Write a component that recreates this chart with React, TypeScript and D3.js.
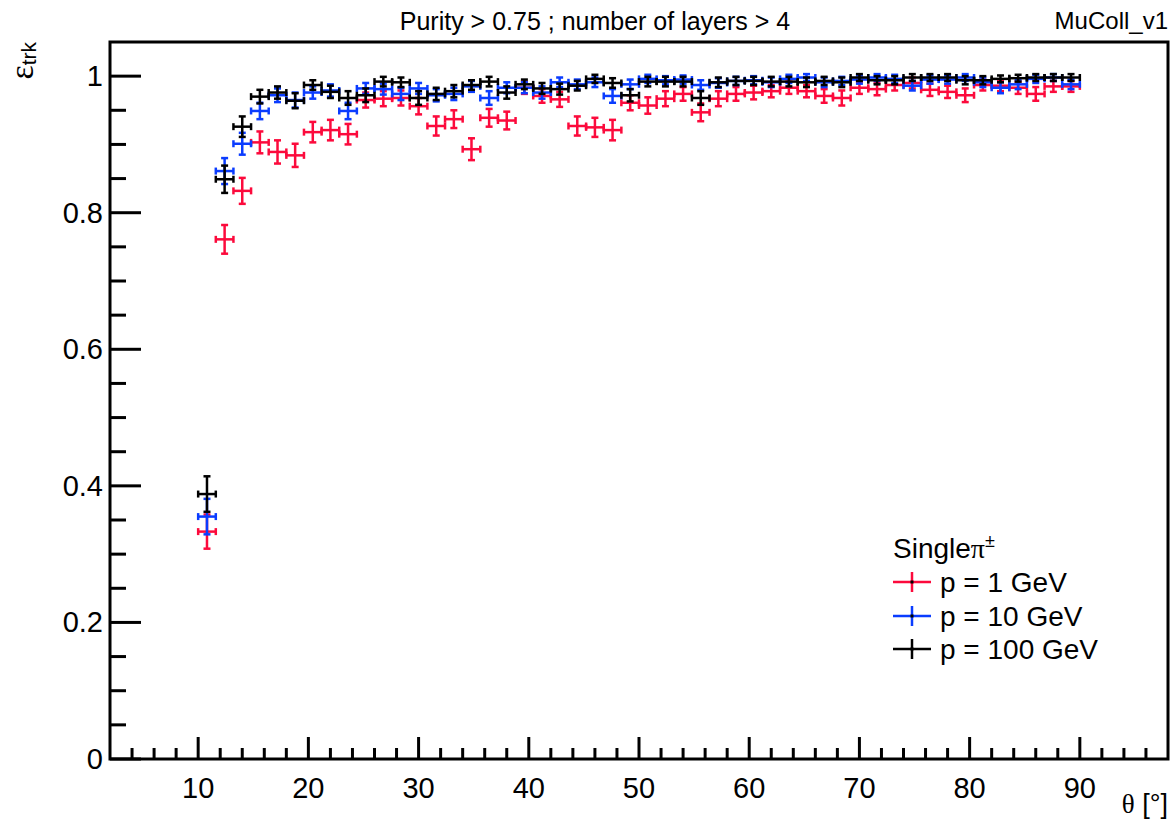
import * as React from 'react';
import * as d3 from 'd3';

// bin centres in theta [deg], 1.6 deg wide bins from 10 to 90
const thetaCenters = [
  10.8, 12.4, 14.0, 15.6, 17.2, 18.8, 20.4, 22.0, 23.6, 25.2,
  26.8, 28.4, 30.0, 31.6, 33.2, 34.8, 36.4, 38.0, 39.6, 41.2,
  42.8, 44.4, 46.0, 47.6, 49.2, 50.8, 52.4, 54.0, 55.6, 57.2,
  58.8, 60.4, 62.0, 63.6, 65.2, 66.8, 68.4, 70.0, 71.6, 73.2,
  74.8, 76.4, 78.0, 79.6, 81.2, 82.8, 84.4, 86.0, 87.6, 89.2,
];
const binHalfWidth = 0.8;

const eff1GeV = [
  0.333, 0.761, 0.832, 0.903, 0.889, 0.884, 0.918, 0.921, 0.915, 0.965,
  0.967, 0.968, 0.956, 0.927, 0.937, 0.893, 0.939, 0.935, 0.983, 0.971,
  0.966, 0.927, 0.925, 0.921, 0.961, 0.957, 0.967, 0.974, 0.947, 0.967,
  0.974, 0.976, 0.978, 0.983, 0.978, 0.971, 0.968, 0.983, 0.981, 0.987,
  0.990, 0.980, 0.977, 0.972, 0.987, 0.986, 0.983, 0.974, 0.985, 0.985,
];
const err1GeV = [
  0.025, 0.021, 0.019, 0.016, 0.017, 0.017, 0.015, 0.015, 0.015, 0.011,
  0.011, 0.011, 0.012, 0.014, 0.013, 0.016, 0.013, 0.013, 0.009, 0.010,
  0.011, 0.014, 0.014, 0.015, 0.011, 0.012, 0.011, 0.010, 0.013, 0.011,
  0.010, 0.010, 0.009, 0.009, 0.009, 0.010, 0.011, 0.009, 0.009, 0.008,
  0.008, 0.009, 0.009, 0.010, 0.008, 0.008, 0.009, 0.010, 0.008, 0.008,
];

const eff10GeV = [
  0.355, 0.861, 0.901, 0.949, 0.972, 0.965, 0.976, 0.979, 0.949, 0.982,
  0.981, 0.974, 0.982, 0.972, 0.974, 0.985, 0.968, 0.983, 0.983, 0.976,
  0.991, 0.988, 0.991, 0.971, 0.988, 0.996, 0.994, 0.995, 0.987, 0.990,
  0.993, 0.994, 0.991, 0.996, 0.998, 0.991, 0.993, 0.995, 0.998, 0.996,
  0.986, 0.995, 0.995, 0.998, 0.991, 0.983, 0.988, 0.996, 0.998, 0.988,
];
const err10GeV = [
  0.026, 0.019, 0.016, 0.012, 0.010, 0.011, 0.009, 0.009, 0.012, 0.008,
  0.008, 0.009, 0.008, 0.009, 0.009, 0.008, 0.010, 0.008, 0.008, 0.009,
  0.007, 0.007, 0.007, 0.010, 0.007, 0.006, 0.006, 0.006, 0.007, 0.007,
  0.006, 0.006, 0.007, 0.006, 0.005, 0.007, 0.006, 0.006, 0.005, 0.006,
  0.007, 0.006, 0.006, 0.005, 0.007, 0.008, 0.007, 0.006, 0.005, 0.007,
];

const eff100GeV = [
  0.388, 0.849, 0.926, 0.970, 0.976, 0.964, 0.987, 0.977, 0.968, 0.972,
  0.992, 0.991, 0.968, 0.974, 0.978, 0.987, 0.992, 0.976, 0.988, 0.982,
  0.981, 0.986, 0.996, 0.990, 0.972, 0.992, 0.992, 0.992, 0.968, 0.991,
  0.993, 0.993, 0.992, 0.992, 0.991, 0.993, 0.991, 0.998, 0.994, 0.994,
  0.998, 0.998, 0.998, 0.994, 0.994, 0.996, 0.997, 0.998, 0.998, 0.998,
];
const err100GeV = [
  0.026, 0.020, 0.015, 0.010, 0.009, 0.011, 0.007, 0.009, 0.010, 0.010,
  0.007, 0.007, 0.010, 0.009, 0.009, 0.007, 0.007, 0.009, 0.007, 0.008,
  0.008, 0.007, 0.006, 0.007, 0.009, 0.007, 0.007, 0.007, 0.010, 0.007,
  0.006, 0.006, 0.007, 0.007, 0.007, 0.006, 0.007, 0.005, 0.006, 0.006,
  0.005, 0.005, 0.005, 0.006, 0.006, 0.005, 0.005, 0.005, 0.005, 0.005,
];

const seriesLabels = ['p = 1 GeV', 'p = 10 GeV', 'p = 100 GeV'];
const seriesColors = ['#fc0a3c', '#0a3cff', '#000000'];

const xMajorTicks = [10, 20, 30, 40, 50, 60, 70, 80, 90];
const xMinorTicks = [4, 6, 8, 12, 14, 16, 18, 22, 24, 26, 28, 32, 34, 36, 38, 42, 44, 46, 48,
  52, 54, 56, 58, 62, 64, 66, 68, 72, 74, 76, 78, 82, 84, 86, 88, 92, 94, 96];
const yMajorTicks = [0, 0.2, 0.4, 0.6, 0.8, 1];
const yMinorTicks = [0.05, 0.1, 0.15, 0.25, 0.3, 0.35, 0.45, 0.5, 0.55, 0.65, 0.7, 0.75,
  0.85, 0.9, 0.95];

const W = 1173, H = 825;
const L = 110, R = 1168, T = 42, B = 759;
const SANS = '"Liberation Sans", Arial, Helvetica, sans-serif';
const SERIF = '"Liberation Serif", "DejaVu Serif", serif';

function ErrorCross({ cx, cy, x0, x1, y0, y1, color, cap = 3.5, sw = 2.5 }: any) {
  return (
    <g stroke={color} strokeWidth={sw} fill="none">
      <line x1={x0} y1={cy} x2={x1} y2={cy} />
      <line x1={cx} y1={y0} x2={cx} y2={y1} />
      <line x1={x0} y1={cy - cap} x2={x0} y2={cy + cap} />
      <line x1={x1} y1={cy - cap} x2={x1} y2={cy + cap} />
      <line x1={cx - cap} y1={y0} x2={cx + cap} y2={y0} />
      <line x1={cx - cap} y1={y1} x2={cx + cap} y2={y1} />
    </g>
  );
}

export default function App() {
  const x = d3.scaleLinear().domain([2, 98]).range([L, R]);
  const y = d3.scaleLinear().domain([0, 1.05]).range([B, T]);

  const series = [
    { vals: eff1GeV, errs: err1GeV },
    { vals: eff10GeV, errs: err10GeV },
    { vals: eff100GeV, errs: err100GeV },
  ];

  const legendX = 893;
  const legendRows = [582, 616, 649];

  return (
    <div style={{ position: 'fixed', left: 0, top: 0 }}>
      <svg width={W} height={H} viewBox={`0 0 ${W} ${H}`} style={{ display: 'block', background: '#fff' }}>
        {/* title and tag */}
        <text x={595} y={30} textAnchor="middle" fontFamily={SANS} fontSize={25}>
          Purity &gt; 0.75 ; number of layers &gt; 4
        </text>
        <text x={1168} y={29} textAnchor="end" fontFamily={SANS} fontSize={24}>MuColl_v1</text>

        {/* data */}
        {series.map((s, si) => (
          <g key={si}>
            {thetaCenters.map((c, i) => (
              <ErrorCross
                key={i}
                cx={x(c)} cy={y(s.vals[i])}
                x0={x(c - binHalfWidth)} x1={x(c + binHalfWidth)}
                y0={y(s.vals[i] + s.errs[i])} y1={y(s.vals[i] - s.errs[i])}
                color={seriesColors[si]}
              />
            ))}
          </g>
        ))}

        {/* frame and ticks */}
        <g stroke="#000" strokeWidth={3} fill="none">
          <rect x={L} y={T} width={R - L} height={B - T} />
          {xMajorTicks.map(t => <line key={'xM' + t} x1={x(t)} x2={x(t)} y1={B} y2={B - 22} />)}
          {xMinorTicks.map(t => <line key={'xm' + t} x1={x(t)} x2={x(t)} y1={B} y2={B - 11} />)}
          {yMajorTicks.map(t => <line key={'yM' + t} x1={L} x2={L + 31} y1={y(t)} y2={y(t)} />)}
          {yMinorTicks.map(t => <line key={'ym' + t} x1={L} x2={L + 16} y1={y(t)} y2={y(t)} />)}
        </g>

        {/* tick labels */}
        <g fontFamily={SANS} fontSize={29} fill="#000">
          {xMajorTicks.map(t => (
            <text key={'xl' + t} x={x(t)} y={798} textAnchor="middle">{t}</text>
          ))}
          {yMajorTicks.map(t => (
            <text key={'yl' + t} x={103} y={y(t)} textAnchor="end" dominantBaseline="central">{d3.format('~g')(t)}</text>
          ))}
        </g>

        {/* axis titles */}
        <text x={1168} y={813} textAnchor="end" fontFamily={SANS} fontSize={27}>
          <tspan fontFamily={SERIF}>θ</tspan> [°]
        </text>
        <text transform={`translate(33,${T}) rotate(-90)`} textAnchor="end" fontFamily={SANS} fontSize={21}>
          <tspan fontFamily={SERIF} fontSize={34}>ε</tspan>
          <tspan dy={3}>trk</tspan>
        </text>

        {/* legend */}
        <text x={legendX} y={558} fontFamily={SANS} fontSize={28}>
          Single<tspan fontFamily={SERIF}>π</tspan><tspan fontSize={18} dy={-11}>±</tspan>
        </text>
        {seriesLabels.map((lab, i) => (
          <g key={lab}>
            <line x1={legendX} x2={legendX + 38} y1={legendRows[i]} y2={legendRows[i]} stroke={seriesColors[i]} strokeWidth={2.5} />
            <line x1={legendX + 19} x2={legendX + 19} y1={legendRows[i] - 10} y2={legendRows[i] + 10} stroke={seriesColors[i]} strokeWidth={2.5} />
            <rect x={legendX + 17.5} y={legendRows[i] - 1.5} width={3} height={3} fill="#000" />
            <text x={legendX + 47} y={legendRows[i]} dominantBaseline="central" fontFamily={SANS} fontSize={28}>{lab}</text>
          </g>
        ))}
      </svg>
    </div>
  );
}
